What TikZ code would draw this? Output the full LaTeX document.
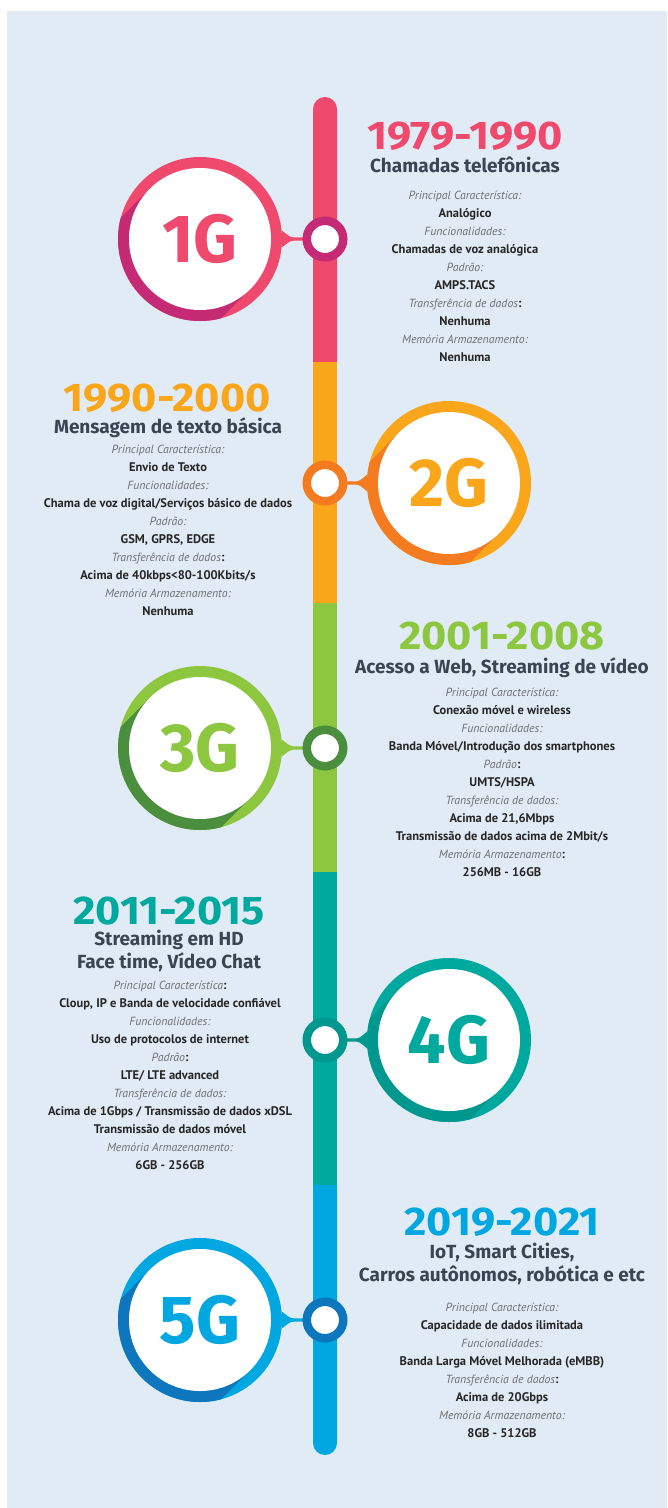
\documentclass[tikz,border=0pt]{standalone}
\usepackage{fontspec}
\setmainfont{PT Sans}
\newfontfamily\headfont{Fira Sans}
\usetikzlibrary{backgrounds}

\definecolor{bgblue}{HTML}{E1EBF6}
\definecolor{oneG}{HTML}{EF4A6D}
\definecolor{oneGd}{HTML}{C42B74}
\definecolor{twoG}{HTML}{FAA61A}
\definecolor{twoGd}{HTML}{F47B20}
\definecolor{threeG}{HTML}{8DC63F}
\definecolor{threeGd}{HTML}{4A8E3E}
\definecolor{fourG}{HTML}{00A99D}
\definecolor{fourGd}{HTML}{00978F}
\definecolor{fiveG}{HTML}{00A7E1}
\definecolor{fiveGd}{HTML}{0D76BD}
\definecolor{topicink}{HTML}{3B4452}
\definecolor{valink}{HTML}{262626}
\definecolor{featgray}{HTML}{6E6F72}

% italic grey captions and bold values of the fact lists
\newcommand{\feat}[1]{{\itshape\fontsize{11.8}{18}\selectfont\color{featgray}#1}}
\newcommand{\fval}[1]{{\bfseries\color{valink}#1}}

\begin{document}
\begin{tikzpicture}[x=1pt,y=1pt]
\tikzstyle{bigring}=[circle,minimum size=164pt,inner sep=0pt]
\tikzstyle{hole}=[circle,fill=white,minimum size=142pt,inner sep=0pt,font=\headfont\bfseries\fontsize{68}{68}\selectfont]
\tikzstyle{dot}=[circle,fill=white,line width=8.5pt,minimum size=36.5pt,inner sep=0pt]
\tikzstyle{year}=[anchor=base,inner sep=0pt,xscale=1.08,transform shape,font=\headfont\bfseries\fontsize{40}{40}\selectfont]
% multi-line nodes sit on the baseline of their last line
\tikzstyle{topic}=[anchor=base,inner sep=0pt,align=center,text=topicink,font=\headfont\bfseries\fontsize{19}{22.5}\selectfont]
\tikzstyle{facts}=[anchor=base,inner sep=0pt,align=center,font=\fontsize{12.5}{18}\selectfont]

\useasboundingbox (0,0) rectangle (667,-1508);

\begin{scope}[on background layer]
\fill[white] (0,0) rectangle (667,-1508);
\fill[bgblue] (7,-11) rectangle (667,-1508);
% timeline bar
\fill[oneG] (313,-362.5) -- (313,-109) arc (180:0:12pt) -- (337,-362.5) -- cycle;
\fill[twoG] (313,-603.5) rectangle (337,-362);
\fill[threeG] (313,-872.5) rectangle (337,-603);
\fill[fourG] (313,-1185.5) rectangle (337,-872);
\fill[fiveG] (313,-1185) -- (313,-1443) arc (180:360:12pt) -- (337,-1185) -- cycle;
\end{scope}

% 1G
\node[bigring,fill=oneG] (g1) at (200,-239) {};
\begin{scope}
\clip (g1.center) circle (82pt);
\draw[oneGd,line width=142pt] (g1.center) -- ++(225:250);
\end{scope}
\node[hole,text=oneG] (w1) at (g1.center) {1G};
\node[dot,draw=oneGd] (n1) at (325,-239) {};
\begin{scope}[on background layer]
\fill[oneG] (g1.6) .. controls +(5,-4) and +(-4,0) .. ([xshift=-31pt,yshift=1.6pt]n1.center) -- ([yshift=1.6pt]n1.center) -- ([yshift=-1.6pt]n1.center) -- ([xshift=-31pt,yshift=-1.6pt]n1.center) .. controls +(-4,0) and +(5,4) .. (g1.-6) -- cycle;
\end{scope}
\node[year,text=oneG] (y1) at (465,-149) {1979-1990};
\node[topic] (t1) at (465,-172) {Chamadas telefônicas};
\node[facts] (f1) at (465,-361) {\feat{Principal Característica:}\\ \fval{Analógico}\\ \feat{Funcionalidades:}\\ \fval{Chamadas de voz analógica}\\ \feat{Padrão:}\\ \fval{AMPS.TACS}\\ \feat{Transferência de dados}\fval{:}\\ \fval{Nenhuma}\\ \feat{Memória Armazenamento:}\\ \fval{Nenhuma}};

% 2G
\node[bigring,fill=twoG] (g2) at (449,-483) {};
\begin{scope}
\clip (g2.center) circle (82pt);
\draw[twoGd,line width=142pt] (g2.center) -- ++(225:250);
\end{scope}
\node[hole,text=twoG] (w2) at (g2.center) {2G};
\node[dot,draw=twoGd] (n2) at (325,-483) {};
\begin{scope}[on background layer]
\fill[twoGd] (g2.174) .. controls +(-5,-4) and +(4,0) .. ([xshift=31pt,yshift=1.6pt]n2.center) -- ([yshift=1.6pt]n2.center) -- ([yshift=-1.6pt]n2.center) -- ([xshift=31pt,yshift=-1.6pt]n2.center) .. controls +(4,0) and +(-5,4) .. (g2.186) -- cycle;
\end{scope}
\node[year,text=twoG] (y2) at (167,-411) {1990-2000};
\node[topic] (t2) at (168,-433) {Mensagem de texto básica};
\node[facts] (f2) at (168,-615) {\feat{Principal Característica:}\\ \fval{Envio de Texto}\\ \feat{Funcionalidades:}\\ \fval{Chama de voz digital/Serviços básico de dados}\\ \feat{Padrão:}\\ \fval{GSM, GPRS, EDGE}\\ \feat{Transferência de dados}\fval{:}\\ \fval{Acima de 40kbps<80-100Kbits/s}\\ \feat{Memória Armazenamento:}\\ \fval{Nenhuma}};

% 3G
\node[bigring,fill=threeG] (g3) at (200,-748) {};
\begin{scope}
\clip (g3.center) circle (82pt);
\draw[threeGd,line width=142pt] (g3.center) -- ++(225:250);
\end{scope}
\node[hole,text=threeG] (w3) at (g3.center) {3G};
\node[dot,draw=threeGd] (n3) at (325,-748) {};
\begin{scope}[on background layer]
\fill[threeG] (g3.6) .. controls +(5,-4) and +(-4,0) .. ([xshift=-31pt,yshift=1.6pt]n3.center) -- ([yshift=1.6pt]n3.center) -- ([yshift=-1.6pt]n3.center) -- ([xshift=-31pt,yshift=-1.6pt]n3.center) .. controls +(-4,0) and +(5,4) .. (g3.-6) -- cycle;
\end{scope}
\node[year,text=threeG] (y3) at (502,-649) {2001-2008};
\node[topic] (t3) at (502,-673) {Acesso a Web, Streaming de vídeo};
\node[facts] (f3) at (502,-876) {\feat{Principal Característica:}\\ \fval{Conexão móvel e wireless}\\ \feat{Funcionalidades:}\\ \fval{Banda Móvel/Introdução dos smartphones}\\ \feat{Padrão}\fval{:}\\ \fval{UMTS/HSPA}\\ \feat{Transferência de dados:}\\ \fval{Acima de 21,6Mbps}\\ \fval{Transmissão de dados acima de 2Mbit/s}\\ \feat{Memória Armazenamento}\fval{:}\\ \fval{256MB - 16GB}};

% 4G
\node[bigring,fill=fourG] (g4) at (449,-1040) {};
\begin{scope}
\clip (g4.center) circle (82pt);
\draw[fourGd,line width=142pt] (g4.center) -- ++(225:250);
\end{scope}
\node[hole,text=fourG] (w4) at (g4.center) {4G};
\node[dot,draw=fourGd] (n4) at (325,-1040) {};
\begin{scope}[on background layer]
\fill[fourGd] (g4.174) .. controls +(-5,-4) and +(4,0) .. ([xshift=31pt,yshift=1.6pt]n4.center) -- ([yshift=1.6pt]n4.center) -- ([yshift=-1.6pt]n4.center) -- ([xshift=31pt,yshift=-1.6pt]n4.center) .. controls +(4,0) and +(-5,4) .. (g4.186) -- cycle;
\end{scope}
\node[year,text=fourG] (y4) at (169,-924) {2011-2015};
\node[topic] (t4) at (169,-968) {Streaming em HD\\ Face time, Vídeo Chat};
\node[facts] (f4) at (170,-1169) {\feat{Principal Característica}\fval{:}\\ \fval{Cloup, IP e Banda de velocidade confiável}\\ \feat{Funcionalidades:}\\ \fval{Uso de protocolos de internet}\\ \feat{Padrão}\fval{:}\\ \fval{LTE/ LTE advanced}\\ \feat{Transferência de dados:}\\ \fval{Acima de 1Gbps / Transmissão de dados xDSL}\\ \fval{Transmissão de dados móvel}\\ \feat{Memória Armazenamento:}\\ \fval{6GB - 256GB}};

% 5G
\node[bigring,fill=fiveG] (g5) at (200,-1320) {};
\begin{scope}
\clip (g5.center) circle (82pt);
\draw[fiveGd,line width=142pt] (g5.center) -- ++(225:250);
\end{scope}
\node[hole,text=fiveG] (w5) at (g5.center) {5G};
\node[dot,draw=fiveGd] (n5) at (325,-1320) {};
\begin{scope}[on background layer]
\fill[fiveG] (g5.6) .. controls +(5,-4) and +(-4,0) .. ([xshift=-31pt,yshift=1.6pt]n5.center) -- ([yshift=1.6pt]n5.center) -- ([yshift=-1.6pt]n5.center) -- ([xshift=-31pt,yshift=-1.6pt]n5.center) .. controls +(-4,0) and +(5,4) .. (g5.-6) -- cycle;
\end{scope}
\node[year,text=fiveG] (y5) at (502,-1235) {2019-2021};
\node[topic] (t5) at (502,-1281) {IoT, Smart Cities,\\ Carros autônomos, robótica e etc};
\node[facts] (f5) at (502,-1437) {\feat{Principal Característica:}\\ \fval{Capacidade de dados ilimitada}\\ \feat{Funcionalidades:}\\ \fval{Banda Larga Móvel Melhorada (eMBB)}\\ \feat{Transferência de dados}\fval{:}\\ \fval{Acima de 20Gbps}\\ \feat{Memória Armazenamento:}\\ \fval{8GB - 512GB}};

\end{tikzpicture}
\end{document}
